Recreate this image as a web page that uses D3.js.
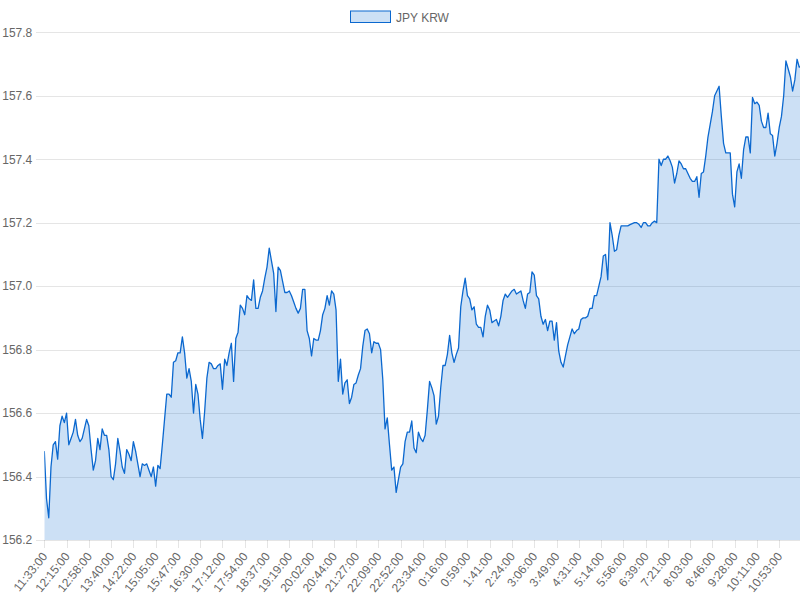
<!DOCTYPE html>
<html>
<head>
<meta charset="utf-8">
<script src="https://cdn.jsdelivr.net/npm/d3@7"></script>
<style>
  html, body { margin: 0; padding: 0; background: #fff; }
  svg { display: block; font-family: "Liberation Sans", Arial, sans-serif; }
</style>
</head>
<body>
<svg id="chart" width="800" height="600"></svg>
<script>
const seriesName = "JPY KRW";
const tickLabels = ["11:33:00","12:15:00","12:58:00","13:40:00","14:22:00","15:05:00","15:47:00","16:30:00","17:12:00","17:54:00","18:37:00","19:19:00","20:02:00","20:44:00","21:27:00","22:09:00","22:52:00","23:34:00","0:16:00","0:59:00","1:41:00","2:24:00","3:06:00","3:49:00","4:31:00","5:14:00","5:56:00","6:39:00","7:21:00","8:03:00","8:46:00","9:28:00","10:11:00","10:53:00"];
const samplesPerLabel = 10;
const yTicks = [156.2, 156.4, 156.6, 156.8, 157.0, 157.2, 157.4, 157.6, 157.8];
const values = [
  156.48,156.33,156.27,156.43,156.50,156.51,156.455,156.56,156.59,156.57,156.60,156.50,156.52,156.54,156.58,156.53,156.51,156.52,156.55,156.58,156.56,156.485,156.42,156.45,156.52,156.485,156.55,156.53,156.53,156.485,156.40,156.39,156.44,156.52,156.48,156.43,156.41,156.485,156.47,156.45,156.51,156.48,156.44,
  156.40,156.44,156.435,156.44,156.42,156.40,156.43,156.37,156.435,156.425,156.50,156.58,156.66,156.66,156.65,156.76,156.765,156.79,156.79,156.84,156.79,156.71,156.74,156.70,156.60,156.69,156.66,156.58,156.52,156.605,156.71,156.76,156.755,156.74,156.74,156.75,156.755,156.675,156.77,156.75,156.79,156.82,156.70,156.835,
  156.855,156.94,156.93,156.91,156.97,156.96,156.955,157.02,156.93,156.93,156.965,156.985,157.025,157.06,157.12,157.08,157.04,156.92,157.06,157.05,157.015,156.98,156.98,156.985,156.97,156.95,156.93,156.915,156.93,156.99,156.99,156.86,156.835,156.78,156.835,156.83,156.83,156.86,156.91,156.93,156.97,156.94,156.985,156.975,
  156.925,156.70,156.77,156.66,156.695,156.705,156.63,156.65,156.69,156.695,156.72,156.74,156.81,156.86,156.865,156.85,156.79,156.825,156.82,156.82,156.80,156.705,156.55,156.585,156.50,156.42,156.43,156.35,156.39,156.43,156.44,156.51,156.54,156.54,156.575,156.49,156.475,156.54,156.52,156.51,156.53,156.61,156.70,156.68,
  156.655,156.565,156.59,156.68,156.75,156.75,156.785,156.845,156.79,156.76,156.785,156.805,156.935,156.985,157.025,156.97,156.96,156.925,156.935,156.88,156.87,156.87,156.84,156.905,156.94,156.925,156.885,156.89,156.895,156.875,156.905,156.955,156.975,156.965,156.975,156.985,156.99,156.975,156.98,156.985,156.955,156.93,156.975,156.98,
  157.045,157.035,156.97,156.96,156.905,156.88,156.895,156.86,156.89,156.89,156.83,156.885,156.795,156.76,156.745,156.78,156.815,156.84,156.865,156.85,156.86,156.865,156.895,156.90,156.90,156.905,156.93,156.93,156.97,156.97,157.00,157.03,157.095,157.10,157.02,157.20,157.16,157.11,157.115,157.16,157.19,157.19,157.19,157.19,
  157.194,157.197,157.20,157.20,157.195,157.185,157.20,157.20,157.19,157.19,157.20,157.205,157.20,157.40,157.38,157.40,157.40,157.41,157.395,157.375,157.325,157.355,157.395,157.385,157.37,157.37,157.355,157.34,157.33,157.33,157.345,157.28,157.355,157.36,157.41,157.47,157.51,157.55,157.60,157.615,157.63,157.535,157.45,157.42,
  157.42,157.42,157.29,157.25,157.36,157.385,157.34,157.43,157.47,157.47,157.42,157.595,157.575,157.58,157.57,157.52,157.50,157.50,157.545,157.48,157.475,157.41,157.45,157.50,157.535,157.60,157.71,157.685,157.66,157.615,157.65,157.715,157.69,157.695
];

const lineColor = "#0b68cf";
const fillColor = "rgba(0,102,204,0.2)";
const gridColor = "rgba(0,0,0,0.1)";
const textColor = "#666";

const svg = d3.select("#chart");
const plotLeft = 44.3, plotRight = 801.5, plotTop = 32.3, plotBottom = 540;

const x = d3.scaleLinear().domain([0, values.length - 1]).range([plotLeft, plotRight]);
const y = d3.scaleLinear().domain([yTicks[0], yTicks[yTicks.length - 1]]).range([plotBottom, plotTop]);

svg.append("defs").append("clipPath").attr("id", "clip")
  .append("rect").attr("x", plotLeft).attr("y", plotTop - 2).attr("width", 800 - plotLeft).attr("height", plotBottom - plotTop + 4);

// Y grid + axis
const yAxis = d3.axisLeft(y).tickValues(yTicks).tickFormat(d3.format(".1f"))
  .tickSize(-(800 - plotLeft)).tickPadding(4);
const gy = svg.append("g").attr("transform", `translate(${plotLeft},0)`).call(yAxis);
gy.select(".domain").remove();
gy.selectAll(".tick line").attr("stroke", gridColor).attr("x1", -8).attr("shape-rendering", "crispEdges");
gy.selectAll(".tick text").attr("fill", textColor).attr("font-size", 12).attr("x", -12)
  .attr("font-family", "Liberation Sans, Arial, sans-serif");

// X grid + axis
const xTickIdx = tickLabels.map((l, i) => i * samplesPerLabel);
const xAxis = d3.axisBottom(x).tickValues(xTickIdx).tickFormat((d, i) => tickLabels[i])
  .tickSize(-(plotBottom - plotTop)).tickPadding(0);
const gx = svg.append("g").attr("transform", `translate(0,${plotBottom})`).call(xAxis);
gx.select(".domain").remove();
gx.selectAll(".tick line").attr("stroke", gridColor).attr("y2", 8).attr("shape-rendering", "crispEdges");
gx.selectAll(".tick text")
  .attr("fill", textColor).attr("font-size", 12)
  .attr("font-family", "Liberation Sans, Arial, sans-serif")
  .attr("text-anchor", "end")
  .attr("dy", "0.35em")
  .attr("transform", "translate(0,14) rotate(-51)")
  .attr("y", 0).attr("x", 0);

// Area + line
const plot = svg.append("g").attr("clip-path", "url(#clip)");
const area = d3.area().x((d, i) => x(i)).y0(y(yTicks[0])).y1(d => y(d));
const line = d3.line().x((d, i) => x(i)).y(d => y(d));
plot.append("path").datum(values).attr("d", area).attr("fill", fillColor);
plot.append("path").datum(values).attr("d", line).attr("fill", "none")
  .attr("stroke", lineColor).attr("stroke-width", 1.3).attr("stroke-linejoin", "round");

// Legend
const lg = svg.append("g").attr("transform", "translate(350,10.5)");
lg.append("rect").attr("x", 0.5).attr("y", 0.5).attr("width", 40).attr("height", 11.5)
  .attr("fill", fillColor).attr("stroke", lineColor).attr("stroke-width", 1);
lg.append("text").attr("x", 46).attr("y", 11).attr("fill", textColor).attr("font-size", 12)
  .text(seriesName);
</script>
</body>
</html>
